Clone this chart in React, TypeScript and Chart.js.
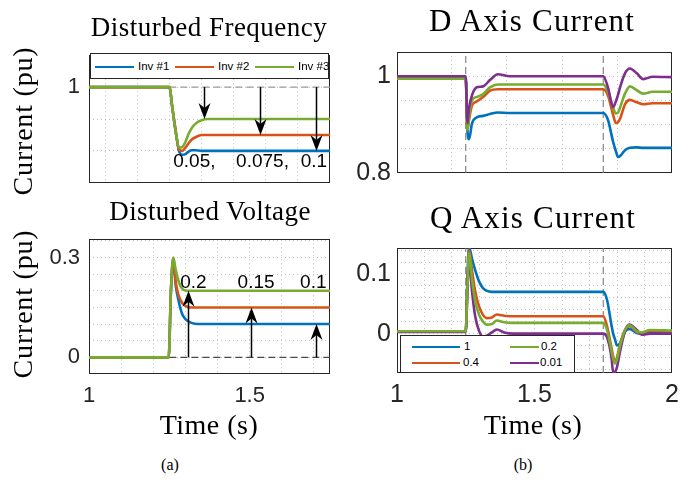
import React, { useEffect, useRef } from "react";
import { Chart, registerables } from "chart.js";

Chart.register(...registerables);

const SANS = '"Liberation Sans", Arial, Helvetica, sans-serif';
const SERIF = '"Liberation Serif", "Times New Roman", serif';
Chart.defaults.font.family = SANS;

const C_BLUE = "#0072BD";
const C_ORANGE = "#D95319";
const C_GREEN = "#77AC30";
const C_PURPLE = "#7E2F8E";
const GRID = "#c2c2c2";
const AXIS = "#262626";

// ---------- (a) top: Disturbed Frequency ----------
const freqLegend = ["Inv #1", "Inv #2", "Inv #3"];
const freqTime = [1.0, 1.25, 1.26, 1.27, 1.28, 1.29, 1.3, 1.31, 1.32, 1.33, 1.35, 1.37, 1.4, 1.75];
const freqInv1 = [1.0, 1.0, 0.965, 0.93, 0.9, 0.894, 0.895, 0.899, 0.901, 0.901, 0.9, 0.9, 0.9, 0.9];
const freqInv2 = [1.0, 1.0, 0.965, 0.93, 0.902, 0.9, 0.905, 0.912, 0.918, 0.921, 0.925, 0.925, 0.925, 0.925];
const freqInv3 = [1.0, 1.0, 0.965, 0.93, 0.905, 0.906, 0.914, 0.927, 0.936, 0.942, 0.948, 0.95, 0.95, 0.95];
const freqRefTime = [1.25, 1.75];
const freqRefLevel = [1.0, 1.0];
const freqArrowTime = [1.357, 1.531, 1.706];
const freqArrowFrom = [1.0, 1.0, 1.0];
const freqArrowTo = [0.95, 0.925, 0.9];
const freqNoteText = ["0.05,", "0.075,", "0.1"];
const freqNoteTime = [1.328, 1.54, 1.7];
const freqNoteLevel = [0.883, 0.883, 0.883];

// ---------- (a) bottom: Disturbed Voltage ----------
const voltTime = [1.0, 1.248, 1.255, 1.262, 1.27, 1.28, 1.29, 1.3, 1.315, 1.33, 1.35, 1.4, 1.75];
const voltInv1 = [0, 0, 0.2, 0.29, 0.215, 0.165, 0.13, 0.115, 0.105, 0.101, 0.1, 0.1, 0.1];
const voltInv2 = [0, 0, 0.2, 0.298, 0.225, 0.183, 0.163, 0.155, 0.15, 0.15, 0.15, 0.15, 0.15];
const voltInv3 = [0, 0, 0.2, 0.3, 0.262, 0.225, 0.206, 0.201, 0.2, 0.2, 0.2, 0.2, 0.2];
const voltRefTime = [1.25, 1.75];
const voltRefLevel = [0, 0];
const voltArrowTime = [1.307, 1.503, 1.706];
const voltArrowFrom = [0, 0, 0];
const voltArrowTo = [0.2, 0.15, 0.1];
const voltNoteText = ["0.2", "0.15", "0.1"];
const voltNoteTime = [1.325, 1.52, 1.698];
const voltNoteLevel = [0.223, 0.223, 0.223];

// ---------- (b) top: D Axis Current ----------
const gainLegend = ["1", "0.4", "0.2", "0.01"];
const dTime = [1.0, 1.25, 1.256, 1.262, 1.273, 1.29, 1.313, 1.338, 1.367, 1.41, 1.75, 1.767, 1.786, 1.796, 1.804, 1.811, 1.829, 1.847, 1.872, 1.895, 1.93, 2.0];
const dGain1 = [0.995, 0.995, 0.89, 0.87, 0.903, 0.915, 0.918, 0.922, 0.925, 0.924, 0.924, 0.91, 0.864, 0.845, 0.833, 0.835, 0.847, 0.852, 0.853, 0.852, 0.852, 0.852];
const dGain04 = [0.995, 0.995, 0.889, 0.91, 0.94, 0.948, 0.957, 0.97, 0.973, 0.973, 0.973, 0.96, 0.92, 0.903, 0.905, 0.912, 0.942, 0.951, 0.946, 0.942, 0.944, 0.944];
const dGain02 = [0.995, 0.995, 0.889, 0.915, 0.951, 0.957, 0.963, 0.977, 0.983, 0.983, 0.983, 0.968, 0.935, 0.923, 0.925, 0.935, 0.964, 0.979, 0.971, 0.964, 0.968, 0.968];
const dGain001 = [1.0, 1.0, 0.903, 0.935, 0.961, 0.977, 0.979, 0.992, 1.004, 1.0, 1.0, 0.977, 0.936, 0.948, 0.962, 0.977, 1.006, 1.016, 1.006, 0.994, 0.999, 0.998];
const stepTimes = [1.25, 1.75];
const dRefSpan = [0.8, 1.05];

// ---------- (b) bottom: Q Axis Current ----------
const qTime = [1.0, 1.25, 1.256, 1.262, 1.273, 1.284, 1.298, 1.313, 1.325, 1.345, 1.363, 1.39, 1.42, 1.75, 1.764, 1.78, 1.786, 1.793, 1.8, 1.811, 1.829, 1.845, 1.872, 1.89, 1.92, 2.0];
const qGain1 = [0.004, 0.004, 0.09, 0.145, 0.125, 0.107, 0.088, 0.076, 0.072, 0.07, 0.07, 0.07, 0.07, 0.07, 0.056, 0.014, 0.0, -0.01, -0.02, -0.016, 0.003, 0.008, 0.001, 0.0, 0.003, 0.003];
const qGain04 = [0.004, 0.004, 0.08, 0.14, 0.105, 0.072, 0.046, 0.031, 0.026, 0.027, 0.032, 0.03, 0.029, 0.029, 0.012, -0.024, -0.038, -0.048, -0.04, -0.018, 0.006, 0.013, 0.003, 0.0, 0.005, 0.002];
const qGain02 = [0.004, 0.004, 0.075, 0.135, 0.09, 0.055, 0.032, 0.02, 0.015, 0.016, 0.022, 0.019, 0.018, 0.018, 0.006, -0.029, -0.042, -0.05, -0.043, -0.021, 0.006, 0.014, 0.004, 0.002, 0.006, 0.005];
const qGain001 = [0.003, 0.003, 0.07, 0.124, 0.07, 0.03, 0.005, -0.005, -0.004, 0.002, 0.007, 0.002, 0.0, 0.0, -0.006, -0.04, -0.065, -0.064, -0.056, -0.03, 0.004, 0.015, 0.006, -0.002, 0.0, 0.0];
const qRefSpan = [-0.066, 0.1435];

// ---------- axis ticks ----------
const leftXGridA = [1.05, 1.15, 1.25, 1.35, 1.45, 1.55, 1.65];
const leftXGridB = [1.1, 1.2, 1.3, 1.4, 1.5, 1.6, 1.7];
const leftXLabels = [1, 1.5];
const freqYGrid = [0.9, 0.95, 1.0];
const freqYLabels = [1];
const voltYGrid = [0, 0.05, 0.1, 0.15, 0.2, 0.25, 0.3, 0.35];
const voltYLabels = [0, 0.3];
const rightXGridTop = [1.2, 1.4, 1.6, 1.8];
const rightXGridBottom = [1.1, 1.2, 1.3, 1.4, 1.5, 1.6, 1.7, 1.8, 1.9];
const rightXLabels = [1, 1.5, 2];
const dYGrid = [0.85, 0.9, 0.95, 1.0];
const dYLabels = [0.8, 1];
const qYGrid = [-0.06, -0.04, -0.02, 0, 0.02, 0.04, 0.06, 0.08, 0.1, 0.12, 0.14];
const qYLabels = [0, 0.1];

type Series = { t: number[]; v: number[]; color: string; order: number };
type Ref = { t: number[]; v: number[]; color: string };
type Spec = {
  left: number; top: number; right: number; bottom: number;
  yAxisW: number; xAxisH: number; tickFont: number; yPad: number; xPad: number; showX: boolean;
  xMin: number; xMax: number; yMin: number; yMax: number;
  xGrid: number[]; xLabels: number[]; yGrid: number[]; yLabels: number[];
  series: Series[]; refs: Ref[];
  arrows?: { t: number[]; from: number[]; to: number[] };
  notes?: { t: number[]; v: number[]; text: string[] };
};

const near = (v: number, arr: number[]) => arr.some((a) => Math.abs(a - v) < 1e-6);
const uniq = (arr: number[]) => {
  const out: number[] = [];
  arr.forEach((v) => { if (!near(v, out)) out.push(v); });
  return out.sort((a, b) => a - b);
};
const pts = (t: number[], v: number[]) => t.map((x, i) => ({ x, y: v[i] }));

const PAD_T = 16;
const PAD_R = 14;

function Panel({ spec }: { spec: Spec }) {
  const ref = useRef<HTMLCanvasElement | null>(null);
  const cw = spec.yAxisW + (spec.right - spec.left) + PAD_R;
  const ch = PAD_T + (spec.bottom - spec.top) + spec.xAxisH;

  useEffect(() => {
    const datasets: any[] = [];
    spec.refs.forEach((r) =>
      datasets.push({
        data: pts(r.t, r.v), borderColor: r.color, borderWidth: 1.1, borderDash: [7, 4],
        pointRadius: 0, order: 100, tension: 0, fill: false,
      })
    );
    spec.series.forEach((s) =>
      datasets.push({
        data: pts(s.t, s.v), borderColor: s.color, backgroundColor: s.color, borderWidth: 2.6,
        pointRadius: 0, order: s.order, cubicInterpolationMode: "monotone", fill: false,
      })
    );

    const decor = {
      id: "decor",
      beforeDatasetsDraw(chart: any) {
        const { ctx, chartArea: a } = chart;
        ctx.save();
        ctx.strokeStyle = AXIS;
        ctx.lineWidth = 1;
        ctx.strokeRect(Math.round(a.left) + 0.5, Math.round(a.top) + 0.5, Math.round(a.right - a.left) - 1, Math.round(a.bottom - a.top) - 1);
        ctx.restore();
      },
      afterDatasetsDraw(chart: any) {
        const { ctx, scales } = chart;
        const xs = scales.x, ys = scales.y;
        ctx.save();
        if (spec.arrows) {
          const A = spec.arrows;
          A.t.forEach((t, i) => {
            const x = Math.round(xs.getPixelForValue(t)) + 0.5;
            const y0 = ys.getPixelForValue(A.from[i]);
            const y1 = ys.getPixelForValue(A.to[i]);
            const dir = Math.sign(y1 - y0);
            const L = 16, W = 6, N = 5;
            ctx.strokeStyle = "#000";
            ctx.lineWidth = 1.5;
            ctx.beginPath();
            ctx.moveTo(x, y0);
            ctx.lineTo(x, y1 - dir * (L - N));
            ctx.stroke();
            ctx.fillStyle = "#000";
            ctx.beginPath();
            ctx.moveTo(x, y1);
            ctx.lineTo(x - W, y1 - dir * L);
            ctx.lineTo(x, y1 - dir * (L - N));
            ctx.lineTo(x + W, y1 - dir * L);
            ctx.closePath();
            ctx.fill();
          });
        }
        if (spec.notes) {
          const Nn = spec.notes;
          ctx.fillStyle = "#000";
          ctx.font = `19px ${SANS}`;
          ctx.textAlign = "center";
          ctx.textBaseline = "middle";
          Nn.t.forEach((t, i) => {
            ctx.fillText(Nn.text[i], xs.getPixelForValue(t), ys.getPixelForValue(Nn.v[i]));
          });
        }
        ctx.restore();
      },
    };

    const chart = new Chart(ref.current as HTMLCanvasElement, {
      type: "line",
      data: { datasets },
      plugins: [decor],
      options: {
        animation: false,
        responsive: false,
        events: [],
        layout: { padding: { top: PAD_T, right: PAD_R, left: 0, bottom: 0 } },
        plugins: { legend: { display: false }, tooltip: { enabled: false }, title: { display: false } },
        scales: {
          x: {
            type: "linear",
            min: spec.xMin,
            max: spec.xMax,
            afterBuildTicks: (s: any) => { s.ticks = uniq([...spec.xGrid, ...spec.xLabels]).map((v) => ({ value: v })); },
            afterFit: (s: any) => { s.height = spec.xAxisH; },
            ticks: {
              display: spec.showX, autoSkip: false, maxRotation: 0, minRotation: 0, padding: spec.xPad,
              font: { size: spec.tickFont }, color: AXIS,
              callback: (v: any) => (near(Number(v), spec.xLabels) ? String(Number(v)) : ""),
            },
            grid: {
              color: (c: any) => (c.tick && near(c.tick.value, spec.xGrid) ? GRID : "rgba(0,0,0,0)"),
              lineWidth: 1, drawTicks: false,
            },
            border: { display: false, dash: [1, 3] },
          } as any,
          y: {
            type: "linear",
            min: spec.yMin,
            max: spec.yMax,
            afterBuildTicks: (s: any) => { s.ticks = uniq([...spec.yGrid, ...spec.yLabels]).map((v) => ({ value: v })); },
            afterFit: (s: any) => { s.width = spec.yAxisW; },
            ticks: {
              autoSkip: false, padding: spec.yPad, font: { size: spec.tickFont }, color: AXIS,
              callback: (v: any) => (near(Number(v), spec.yLabels) ? String(Number(v)) : ""),
            },
            grid: {
              color: (c: any) => (c.tick && near(c.tick.value, spec.yGrid) ? GRID : "rgba(0,0,0,0)"),
              lineWidth: 1, drawTicks: false,
            },
            border: { display: false, dash: [1, 3] },
          } as any,
        },
      },
    });
    return () => chart.destroy();
  }, []);

  return (
    <canvas
      ref={ref}
      width={cw}
      height={ch}
      style={{ position: "absolute", left: spec.left - spec.yAxisW, top: spec.top - PAD_T, width: cw, height: ch }}
    />
  );
}

const freqSpec: Spec = {
  left: 89, top: 49, right: 330, bottom: 189, yAxisW: 70, xAxisH: 16, tickFont: 22, yPad: 9, xPad: 9, showX: false,
  xMin: 1, xMax: 1.75, yMin: 0.85, yMax: 1.05,
  xGrid: leftXGridA, xLabels: leftXLabels, yGrid: freqYGrid, yLabels: freqYLabels,
  series: [
    { t: freqTime, v: freqInv1, color: C_BLUE, order: 3 },
    { t: freqTime, v: freqInv2, color: C_ORANGE, order: 2 },
    { t: freqTime, v: freqInv3, color: C_GREEN, order: 1 },
  ],
  refs: [{ t: freqRefTime, v: freqRefLevel, color: "#9a9a9a" }],
  arrows: { t: freqArrowTime, from: freqArrowFrom, to: freqArrowTo },
  notes: { t: freqNoteTime, v: freqNoteLevel, text: freqNoteText },
};

const voltSpec: Spec = {
  left: 89, top: 233, right: 330, bottom: 374, yAxisW: 70, xAxisH: 40, tickFont: 22, yPad: 9, xPad: 9, showX: true,
  xMin: 1, xMax: 1.75, yMin: -0.05, yMax: 0.355,
  xGrid: leftXGridB, xLabels: leftXLabels, yGrid: voltYGrid, yLabels: voltYLabels,
  series: [
    { t: voltTime, v: voltInv1, color: C_BLUE, order: 3 },
    { t: voltTime, v: voltInv2, color: C_ORANGE, order: 2 },
    { t: voltTime, v: voltInv3, color: C_GREEN, order: 1 },
  ],
  refs: [{ t: voltRefTime, v: voltRefLevel, color: "#4a4a4a" }],
  arrows: { t: voltArrowTime, from: voltArrowFrom, to: voltArrowTo },
  notes: { t: voltNoteTime, v: voltNoteLevel, text: voltNoteText },
};

const dSpec: Spec = {
  left: 397, top: 47, right: 672, bottom: 176, yAxisW: 60, xAxisH: 18, tickFont: 25, yPad: 6, xPad: 7, showX: false,
  xMin: 1, xMax: 2, yMin: 0.8, yMax: 1.05,
  xGrid: rightXGridTop, xLabels: rightXLabels, yGrid: dYGrid, yLabels: dYLabels,
  series: [
    { t: dTime, v: dGain1, color: C_BLUE, order: 4 },
    { t: dTime, v: dGain04, color: C_ORANGE, order: 3 },
    { t: dTime, v: dGain02, color: C_GREEN, order: 2 },
    { t: dTime, v: dGain001, color: C_PURPLE, order: 1 },
  ],
  refs: [
    { t: [stepTimes[0], stepTimes[0]], v: dRefSpan, color: "#7a7a7a" },
    { t: [stepTimes[1], stepTimes[1]], v: dRefSpan, color: "#7a7a7a" },
  ],
};

const qSpec: Spec = {
  left: 397, top: 243, right: 672, bottom: 373, yAxisW: 60, xAxisH: 40, tickFont: 25, yPad: 6, xPad: 7, showX: true,
  xMin: 1, xMax: 2, yMin: -0.066, yMax: 0.1435,
  xGrid: rightXGridBottom, xLabels: rightXLabels, yGrid: qYGrid, yLabels: qYLabels,
  series: [
    { t: qTime, v: qGain1, color: C_BLUE, order: 4 },
    { t: qTime, v: qGain04, color: C_ORANGE, order: 3 },
    { t: qTime, v: qGain001, color: C_PURPLE, order: 2 },
    { t: qTime, v: qGain02, color: C_GREEN, order: 1 },
  ],
  refs: [
    { t: [stepTimes[0], stepTimes[0]], v: qRefSpan, color: "#7a7a7a" },
    { t: [stepTimes[1], stepTimes[1]], v: qRefSpan, color: "#7a7a7a" },
  ],
};

function Text({ x, y, text, size, family = SERIF, ls = 0, rotate = false }: any) {
  return (
    <div
      style={{
        position: "absolute", left: x, top: y, fontFamily: family, fontSize: size, lineHeight: 1,
        letterSpacing: ls, whiteSpace: "nowrap", color: "#000",
        transform: `translate(-50%, -50%)${rotate ? " rotate(-90deg)" : ""}`,
      }}
    >
      {text}
    </div>
  );
}

function LegendItem({ x, y, w, color, text, tx }: any) {
  return (
    <>
      <div style={{ position: "absolute", left: x, top: y - 1.3, width: w, height: 2.6, background: color }} />
      <div style={{ position: "absolute", left: tx, top: y, transform: "translateY(-50%)", fontFamily: SANS, fontSize: 11.5, lineHeight: 1, whiteSpace: "nowrap", color: "#000" }}>
        {text}
      </div>
    </>
  );
}

export default function App() {
  return (
    <div style={{ position: "absolute", left: 0, top: 0, width: 700, height: 481, background: "#fff", overflow: "hidden" }}>
      <Panel spec={freqSpec} />
      <Panel spec={voltSpec} />
      <Panel spec={dSpec} />
      <Panel spec={qSpec} />

      <Text x={209} y={26.5} text="Disturbed Frequency" size={27} ls={0.5} />
      <Text x={210} y={210.5} text="Disturbed Voltage" size={27} ls={0.4} />
      <Text x={532} y={19.5} text="D Axis Current" size={31} ls={1.2} />
      <Text x={533} y={217} text="Q Axis Current" size={31} ls={1.2} />
      <Text x={23} y={121} text="Current (pu)" size={28} ls={0.8} rotate />
      <Text x={23} y={304} text="Current (pu)" size={28} ls={0.8} rotate />
      <Text x={209} y={425} text="Time (s)" size={28} ls={0.5} />
      <Text x={533} y={425} text="Time (s)" size={28} ls={0.5} />
      <Text x={170} y={465} text="(a)" size={16} />
      <Text x={523} y={465} text="(b)" size={16} />

      <div style={{ position: "absolute", left: 90, top: 53, width: 239, height: 26, border: `1px solid ${AXIS}`, background: "#fff", boxSizing: "border-box" }}>
        <LegendItem x={4} y={13} w={39} color={C_BLUE} text={freqLegend[0]} tx={47} />
        <LegendItem x={84} y={13} w={39} color={C_ORANGE} text={freqLegend[1]} tx={127} />
        <LegendItem x={164} y={13} w={39} color={C_GREEN} text={freqLegend[2]} tx={207} />
      </div>

      <div style={{ position: "absolute", left: 400, top: 335, width: 175, height: 38, border: `1px solid ${AXIS}`, background: "#fff", boxSizing: "border-box" }}>
        <LegendItem x={11} y={11} w={48} color={C_BLUE} text={gainLegend[0]} tx={63} />
        <LegendItem x={109} y={11} w={29} color={C_GREEN} text={gainLegend[2]} tx={140} />
        <LegendItem x={11} y={27} w={48} color={C_ORANGE} text={gainLegend[1]} tx={62} />
        <LegendItem x={109} y={27} w={29} color={C_PURPLE} text={gainLegend[3]} tx={139} />
      </div>
    </div>
  );
}
